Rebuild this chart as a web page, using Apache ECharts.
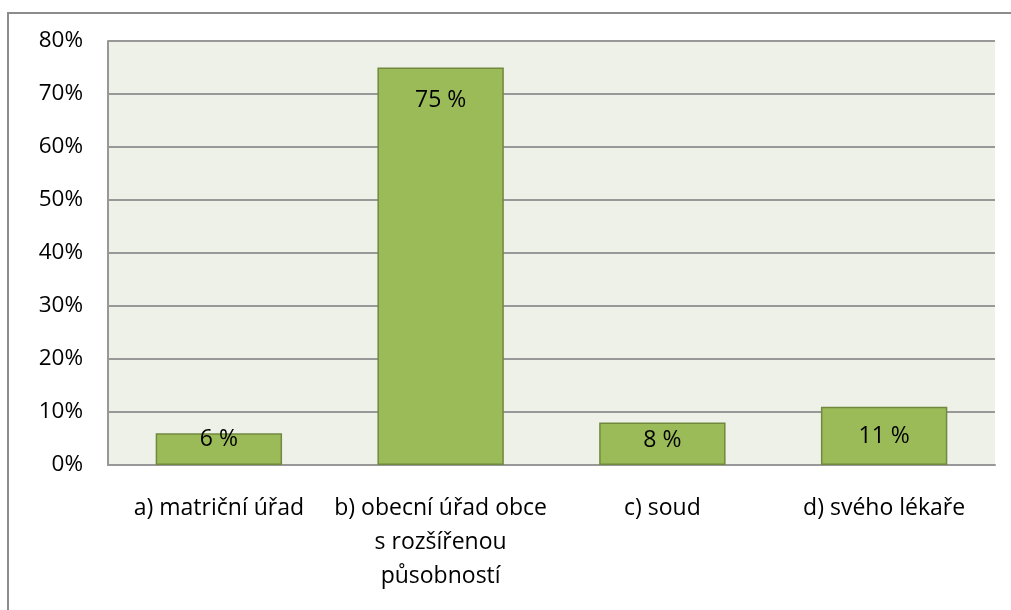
<!DOCTYPE html>
<html>
<head>
<meta charset="utf-8">
<script src="https://cdn.jsdelivr.net/npm/echarts@6/dist/echarts.min.js"></script>
<style>
  html, body { margin: 0; padding: 0; background: #fff; overflow: hidden; }
  #chart { position: absolute; left: 0; top: 0; width: 1011px; height: 610px; }
  .frame { position: absolute; left: 7px; top: 12px; width: 1020px; height: 620px;
           border: 2px solid #8c8c8c; pointer-events: none; }
</style>
</head>
<body>
<div id="chart"></div>
<div class="frame"></div>
<script>
  // data
  const categories = ['a) matriční úřad', 'b) obecní úřad obce\ns rozšířenou\npůsobností', 'c) soud', 'd) svého lékaře']
  const values = [6, 75, 8, 11]
  const yTicks = [0, 10, 20, 30, 40, 50, 60, 70, 80]

  // label placement per bar (Excel keeps small-bar labels above the axis)
  const labelOffsets = [-5, 21, 6, 18]

  const font = '"Open Sans", Lato, sans-serif'
  const chart = echarts.init(document.getElementById('chart'))

  const options = {
    animation: false,
    grid: {
      left: 108,
      top: 41,
      right: 16,
      bottom: 145,
      show: true,
      backgroundColor: '#EEF1E8',
      borderWidth: 0
    },
    xAxis: {
      type: 'category',
      data: categories,
      axisLine: { show: true, lineStyle: { color: '#989898', width: 2 } },
      axisTick: { show: false },
      axisLabel: {
        interval: 0,
        margin: 26,
        color: '#000',
        fontFamily: font,
        fontSize: 23,
        lineHeight: 34
      }
    },
    yAxis: {
      type: 'value',
      min: yTicks[0],
      max: yTicks[yTicks.length - 1],
      interval: 10,
      axisLine: { show: true, lineStyle: { color: '#989898', width: 2 } },
      axisTick: { show: false },
      splitLine: { lineStyle: { color: '#989898', width: 2 } },
      axisLabel: {
        formatter: '{value}%',
        margin: 25,
        color: '#000',
        fontFamily: font,
        fontSize: 22.5
      }
    },
    series: [{
      type: 'bar',
      barWidth: '57%',
      data: values.map((v, i) => ({
        value: v,
        label: { distance: labelOffsets[i] }
      })),
      itemStyle: {
        color: '#9BBB59',
        borderColor: '#71893F',
        borderWidth: 1.5
      },
      label: {
        show: true,
        position: 'insideTop',
        formatter: '{c} %',
        color: '#000',
        fontFamily: font,
        fontSize: 23
      }
    }]
  }

  chart.setOption(options, true)
</script>
</body>
</html>
